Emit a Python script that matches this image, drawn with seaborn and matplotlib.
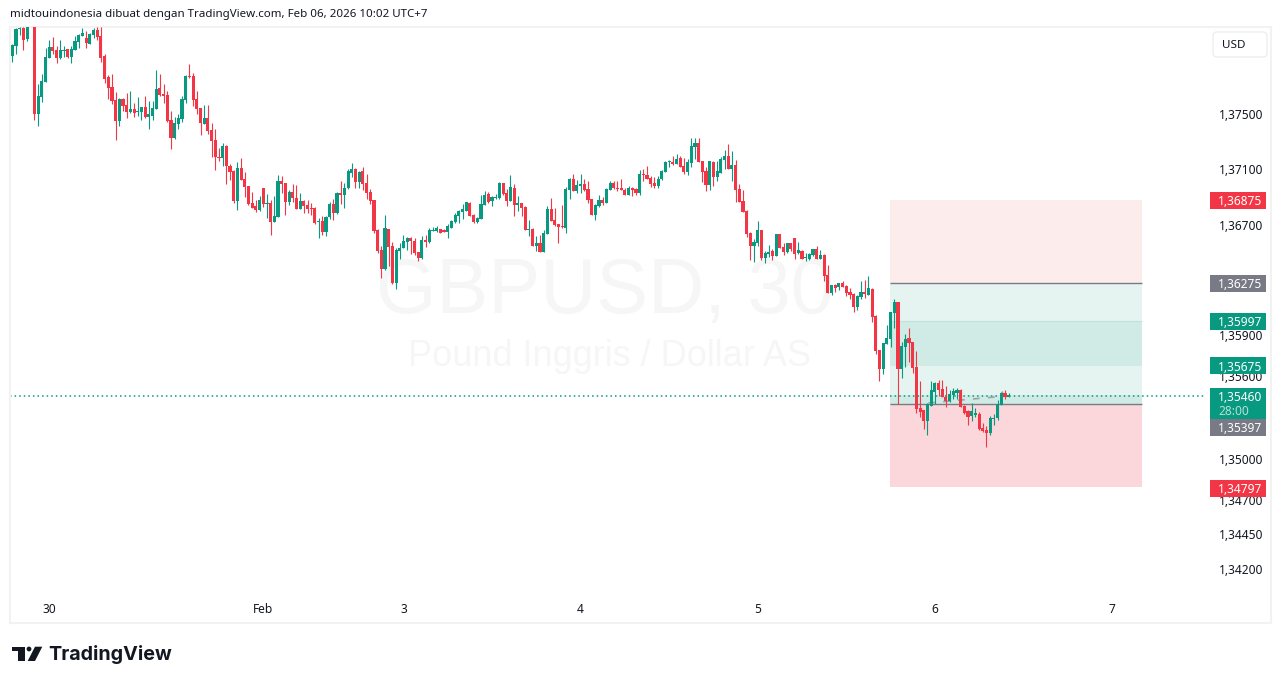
import numpy as np
import pandas as pd
import matplotlib
matplotlib.use("Agg")
import matplotlib.pyplot as plt
from matplotlib.patches import FancyBboxPatch, Polygon, Circle, Rectangle
from matplotlib.transforms import IdentityTransform
import seaborn as sns

# GBPUSD 30 min candles, in points above 1.35000
highs = [3011,3127,3137,3137,3200,3290,3190,2720,2793,2982,
    3040,3062,2996,3040,2996,2974,2996,3069,3083,3127,
    3105,3091,3127,3137,3137,2938,2786,2793,2662,2619,
    2619,2655,2670,2582,2626,2553,2633,2597,2597,2822,
    2793,2720,2670,2524,2481,2503,2633,2786,2866,2800,
    2670,2546,2568,2568,2437,2394,2256,2292,2277,2140,
    2096,2154,2183,2081,1980,1936,1878,1907,1966,1922,
    1878,1907,2060,2053,2002,1951,1995,1987,1929,1878,
    1878,1857,1828,1748,1762,1762,1864,1886,1936,2016,
    2002,2103,2147,2111,2089,2118,2067,1958,1878,1668,
    1544,1769,1668,1573,1530,1566,1624,1610,1610,1603,
    1501,1617,1624,1675,1682,1690,1668,1668,1704,1733,
    1784,1806,1849,1864,1864,1777,1755,1915,1944,1936,
    1907,1922,2009,2002,1958,2060,1994,1907,1856,1835,
    1733,1675,1617,1624,1660,1835,1893,1820,1704,1842,
    1973,2038,2067,2023,2067,2031,2016,1885,1849,1914,
    1900,1965,2016,2016,2016,2031,1965,1980,1973,1965,
    2096,2103,2125,2052,2045,2052,2096,2161,2169,2198,
    2212,2198,2183,2176,2328,2328,2328,2161,2118,2161,
    2161,2161,2190,2241,2285,2234,2169,1994,1950,1805,
    1645,1595,1725,1660,1508,1551,1522,1631,1631,1566,
    1566,1566,1602,1573,1515,1493,1493,1522,1544,1515,
    1486,1406,1261,1268,1275,1290,1261,1239,1203,1188,
    1290,1297,1326,1239,1043,789,840,971,1065,1159,
    1138,847,905,949,847,782,564,354,404,564,
    557,571,571,528,499,513,513,506,390,354,
    404,368,339,259,237,310,325,426,484,499,477]
lows = [2880,2938,3076,2967,3033,3170,2459,2415,2590,2735,
    2909,2938,2873,2902,2916,2909,2873,2967,2982,3069,
    2982,3011,3054,3040,2880,2728,2611,2575,2314,2415,
    2524,2474,2510,2481,2488,2459,2474,2394,2459,2539,
    2633,2582,2444,2248,2321,2394,2444,2582,2764,2561,
    2503,2350,2430,2357,2190,2096,2161,2125,1994,2023,
    1856,1806,2023,1900,1842,1820,1791,1799,1828,1748,
    1624,1719,1755,1929,1769,1842,1864,1813,1813,1784,
    1784,1769,1704,1603,1624,1617,1740,1733,1777,1849,
    1820,1958,2045,1966,1966,1951,1886,1849,1639,1494,
    1312,1370,1399,1269,1232,1450,1530,1515,1486,1479,
    1436,1450,1537,1566,1653,1646,1639,1646,1603,1675,
    1711,1711,1740,1799,1762,1711,1711,1740,1842,1857,
    1835,1886,1886,1915,1835,1871,1762,1798,1762,1660,
    1617,1544,1508,1501,1501,1631,1726,1689,1566,1675,
    1639,1885,1944,1929,1929,1944,1856,1769,1733,1827,
    1842,1856,1951,1958,1944,1951,1914,1914,1907,1914,
    1914,2016,2031,1973,1965,1965,2023,2081,2118,2132,
    2140,2118,2067,2060,2118,2176,2154,2009,1944,1951,
    1980,2016,2074,2103,2103,2016,1864,1863,1791,1609,
    1442,1428,1544,1442,1420,1464,1442,1471,1529,1478,
    1493,1508,1449,1486,1449,1435,1442,1471,1449,1449,
    1290,1203,1188,1210,1224,1246,1181,1159,1065,1079,
    1159,1166,1188,992,760,564,615,833,811,949,
    397,586,666,702,622,332,303,216,172,383,
    397,455,448,375,412,433,433,375,325,245,
    274,303,208,194,85,172,245,281,390,433,448]
opens = [2924,2996,3120,3127,3047,3200,3170,2503,2626,2735,
    2909,2989,2967,2909,2960,2974,2916,2967,3025,3069,
    3054,3011,3076,3112,3069,2924,2771,2699,2604,2452,
    2611,2568,2517,2539,2517,2517,2553,2481,2488,2539,
    2691,2648,2640,2459,2328,2430,2466,2604,2778,2778,
    2611,2546,2430,2474,2386,2314,2190,2183,2270,2125,
    2089,1871,2111,2031,1980,1856,1835,1806,1966,1849,
    1857,1719,1755,2016,2002,1864,1936,1893,1813,1871,
    1842,1820,1820,1719,1726,1646,1755,1849,1784,1929,
    1915,1966,2074,2103,2009,2089,2002,1936,1878,1661,
    1515,1377,1668,1544,1276,1508,1530,1573,1603,1581,
    1501,1457,1588,1573,1653,1653,1668,1661,1646,1675,
    1719,1762,1791,1799,1857,1769,1719,1740,1842,1922,
    1871,1893,1893,2002,1929,1871,1965,1842,1856,1827,
    1660,1668,1544,1566,1501,1631,1813,1733,1704,1689,
    1675,1951,2031,1944,1980,1994,1958,1885,1769,1835,
    1878,1856,1951,2002,1965,1965,1951,1914,1965,1958,
    1929,2067,2060,2038,2002,1980,2031,2081,2154,2154,
    2140,2183,2125,2081,2147,2263,2292,2161,2089,1987,
    2154,2045,2074,2169,2198,2103,2132,1958,1871,1798,
    1638,1544,1566,1660,1457,1486,1508,1471,1631,1537,
    1500,1566,1602,1493,1508,1457,1449,1478,1522,1449,
    1478,1333,1203,1261,1246,1275,1253,1210,1195,1101,
    1174,1210,1188,1232,1036,789,651,833,869,1058,
    1138,651,811,876,847,666,368,354,274,383,
    484,550,506,448,419,463,477,499,383,346,
    310,317,325,223,208,187,288,296,390,477,448]
closes = [3003,3120,3127,3040,3160,3270,2503,2633,2742,2916,
    2989,2960,2909,2967,2967,2916,2974,3033,3076,3091,
    3018,3083,3112,3062,2909,2757,2691,2597,2452,2611,
    2561,2517,2539,2510,2524,2553,2481,2503,2546,2684,
    2640,2633,2452,2328,2437,2474,2611,2778,2771,2604,
    2539,2437,2474,2379,2307,2190,2183,2270,2125,2081,
    1871,2111,2023,1973,1849,1820,1806,1878,1849,1857,
    1719,1762,2016,1995,1864,1936,1893,1813,1871,1835,
    1813,1813,1711,1726,1646,1755,1849,1784,1929,1915,
    1966,2089,2103,2009,2082,1995,1929,1871,1653,1508,
    1377,1675,1537,1276,1515,1530,1581,1603,1581,1494,
    1457,1588,1573,1661,1661,1675,1639,1646,1690,1726,
    1769,1799,1813,1864,1762,1719,1748,1849,1915,1864,
    1900,1900,2002,1922,1871,1973,1842,1856,1820,1660,
    1668,1544,1566,1501,1639,1813,1726,1697,1682,1682,
    1958,2031,1944,1987,1994,1951,1878,1769,1842,1878,
    1856,1958,2002,1965,1958,1951,1914,1965,1951,1929,
    2067,2060,2031,1994,1980,2031,2089,2154,2161,2140,
    2176,2118,2081,2154,2270,2292,2154,2081,1987,2161,
    2045,2089,2176,2198,2103,2132,1951,1863,1791,1631,
    1544,1573,1660,1457,1493,1500,1471,1631,1529,1500,
    1566,1522,1486,1515,1449,1464,1486,1522,1449,1478,
    1326,1203,1261,1239,1275,1246,1203,1188,1101,1181,
    1210,1195,1239,1029,782,651,840,876,1065,1138,
    651,818,869,840,659,361,339,274,397,499,
    550,499,448,419,470,492,499,375,332,303,
    346,332,216,201,187,296,296,397,477,448,460]

day_ticks = [10, 68, 106, 154, 202, 250, 298]
day_labels = ["30", "Feb", "3", "4", "5", "6", "7"]
price_ticks = [1.375, 1.371, 1.367, 1.363, 1.359, 1.356, 1.35, 1.347, 1.3445, 1.342]
price_labels = ["1,37500", "1,37100", "1,36700", "1,36300", "1,35900", "1,35600",
                "1,35000", "1,34700", "1,34450", "1,34200"]

# position tool levels
stop_price = 1.36875
entry_top = 1.36275
band_top = 1.35997
band_bottom = 1.35675
last_price = 1.35460
entry_price = 1.35397
target_price = 1.34797
tool_start = 237.9
tool_end = 306.1

path_x = [248.2, 266.3, 268.5]
path_y = [1.35404, 1.35448, 1.35486]

UP = "#089981"
DOWN = "#F23645"
GREY = "#787B86"
INK = "#131722"

sns.set_theme(style="white")
plt.rcParams["font.family"] = ["Noto Sans", "DejaVu Sans"]

df = pd.DataFrame({"idx": np.arange(len(opens)), "o": opens, "h": highs, "l": lows, "c": closes})
for col in "ohlc":
    df[col] = 1.35 + df[col] / 100000
df["bottom"] = df[["o", "c"]].min(axis=1)
df["body"] = (df["o"] - df["c"]).abs()
df["up"] = df["c"] >= df["o"]

fig = plt.figure(figsize=(12.81, 6.84), dpi=100, facecolor="white")
ax = fig.add_axes([10 / 1281, 1 - 623 / 684, 1261 / 1281, 596 / 684])

# watermark
ax.text(0.4715, 1 - (292 - 27) / 596, "GBPUSD, 30", transform=ax.transAxes, ha="center", va="center",
        fontsize=56, color="#f6f6f6", family="Liberation Sans", zorder=0)
ax.text(0.4757, 1 - (356 - 27) / 596, "Pound Inggris / Dollar AS", transform=ax.transAxes,
        ha="center", va="center", fontsize=26, color="#f6f6f6", family="Liberation Sans", zorder=0)

# position tool
def band(lo, hi, color):
    ax.add_patch(Rectangle((tool_start, lo), tool_end - tool_start, hi - lo, color=color, lw=0, zorder=1))

band(entry_top, stop_price, "#fdecec")
band(entry_price, entry_top, "#e5f4f0")
band(band_bottom, band_top, "#d0ebe5")
band(entry_price, last_price, "#d0ebe5")
band(target_price, entry_price, "#fbd6da")
ax.hlines([entry_top, entry_price], tool_start, tool_end, color=GREY, lw=1.0, zorder=2)
ax.hlines(band_top, tool_start, tool_end, color="#bfe3db", lw=0.8, zorder=2)

ax.axhline(last_price - 0.00007, xmax=(1205 - 10) / 1261, color=UP, lw=1.1, ls=(0, (1, 2)), zorder=2)
ax.plot(path_x, path_y, color="#9aa5a3", lw=1.2, ls=(0, (4, 5)), zorder=2)

# candles
ax.vlines(df.loc[df["up"], "idx"], df.loc[df["up"], "l"], df.loc[df["up"], "h"], color=UP, lw=0.8, zorder=3)
ax.vlines(df.loc[~df["up"], "idx"], df.loc[~df["up"], "l"], df.loc[~df["up"], "h"], color=DOWN, lw=0.8, zorder=3)
for is_up, color in [(True, UP), (False, DOWN)]:
    part = df[df["up"] == is_up]
    sns.barplot(data=part, x="idx", y="body", bottom=part["bottom"].values, native_scale=True,
                color=color, saturation=1, width=0.85, linewidth=0, errorbar=None, ax=ax, zorder=4)

ax.set_xlim(-0.63, 341.1)
ax.set_ylim(1.33807, 1.38134)
ax.set_xlabel("")
ax.set_ylabel("")
ax.set_xticks(day_ticks)
ax.set_xticklabels(day_labels)
ax.yaxis.tick_right()
ax.set_yticks(price_ticks)
ax.set_yticklabels(price_labels)
ax.tick_params(axis="x", length=0, pad=-14.4, labelsize=8.6, labelcolor=INK)
ax.tick_params(axis="y", length=0, pad=-37.4, labelsize=8.6, labelcolor=INK)
for label in ax.get_yticklabels():
    label.set_va("center_baseline")
for spine in ax.spines.values():
    spine.set_color("#f2f2f2")
    spine.set_linewidth(1.5)

# price tags on the axis
yt = ax.get_yaxis_transform()
tag_left = (1210 - 10) / 1261
tag_w = 56 / 1261
text_x = (1218 - 10) / 1261

def tag(center, text, color, rows=1, text2=None):
    h = 0.00123 if rows == 1 else 0.00225
    ax.add_patch(Rectangle((tag_left, center - h / 2), tag_w, h, transform=yt, color=color, lw=0, zorder=6, clip_on=False))
    if text2 is None:
        ax.text(text_x, center, text, transform=yt, color="white", fontsize=8.6, fontweight="medium",
                va="center_baseline", ha="left", zorder=7)
    else:
        ax.text(text_x, center + 0.00052, text, transform=yt, color="white", fontsize=8.6, fontweight="medium",
                va="center_baseline", ha="left", zorder=7)
        ax.text(text_x, center - 0.00048, text2, transform=yt, color="#b2e0d5", fontsize=8.6, fontweight="medium",
                va="center_baseline", ha="left", zorder=7)

tag(stop_price, "1,36875", DOWN)
tag(entry_top, "1,36275", GREY)
tag(band_top, "1,35997", UP)
tag(band_bottom, "1,35675", UP)
tag(1.35401, "1,35460", UP, rows=2, text2="28:00")
tag(1.35227, "1,35397", GREY)
tag(target_price - 0.00012, "1,34797", DOWN)

# header, USD button, logo
def px(x, y):
    return x, 684 - y

fig.text(10 / 1281, 1 - 14 / 684, "midtouindonesia dibuat dengan TradingView.com, Feb 06, 2026 10:02 UTC+7",
         fontsize=8.3, color=INK, va="center", ha="left", family="Noto Sans")
idt = IdentityTransform()
fig.add_artist(FancyBboxPatch(px(1213, 57), 54, 25, boxstyle="round,pad=0,rounding_size=4",
                              fc="white", ec="#eeeeee", lw=1, transform=idt))
fig.text(1222 / 1281, 1 - 45 / 684, "USD", fontsize=8.4, color=INK, va="center", ha="left")

logo = "#131722"
fig.add_artist(Polygon([px(12.3, 646.7), px(25, 646.7), px(25, 661), px(18.3, 661), px(18.3, 651), px(12.3, 651)],
                       closed=True, fc=logo, lw=0, transform=idt))
fig.add_artist(Circle(px(29, 649), 2.4, fc=logo, lw=0, transform=idt))
fig.add_artist(Polygon([px(35, 646.7), px(42.3, 646.7), px(35, 661), px(27.7, 661)],
                       closed=True, fc=logo, lw=0, transform=idt))
fig.text(48 / 1281, 1 - 654 / 684, "TradingView", fontsize=14.2, fontweight="bold", color=logo,
         va="center", ha="left", family="Inter")

fig.savefig("out.png", dpi=100)
